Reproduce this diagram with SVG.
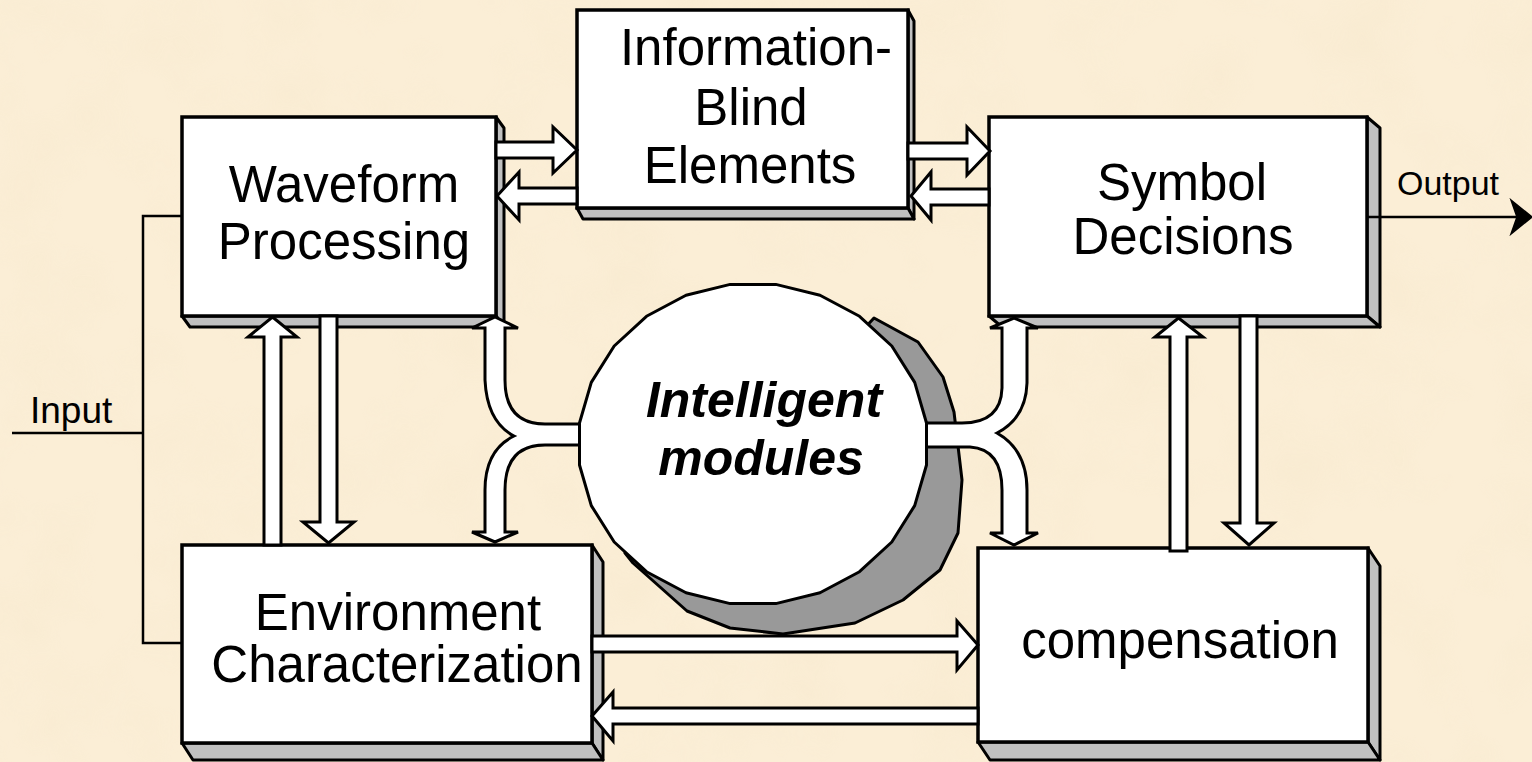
<svg xmlns="http://www.w3.org/2000/svg" width="1532" height="762" viewBox="0 0 1532 762">
  <defs>
    <style>
      .face { fill: #ffffff; stroke: #000000; stroke-width: 3.5; stroke-linejoin: miter; }
      .side { fill: #c0c0c0; stroke: #000000; stroke-width: 3; stroke-linejoin: round; }
      .blk { fill: #ffffff; stroke: #000000; stroke-width: 3; stroke-linejoin: miter; }
      .wire { fill: none; stroke: #000000; stroke-width: 2.5; }
      .lbl { font-family: "Liberation Sans", Arial, Helvetica, sans-serif; font-size: 51px; fill: #000000; text-anchor: middle; }
      .small { font-family: "Liberation Sans", Arial, Helvetica, sans-serif; fill: #000000; }
      .bi { font-family: "Liberation Sans", Arial, Helvetica, sans-serif; font-size: 50px; font-weight: bold; font-style: italic; fill: #000000; text-anchor: middle; }
    </style>
    <filter id="paper" x="0" y="0" width="100%" height="100%">
      <feTurbulence type="fractalNoise" baseFrequency="0.012" numOctaves="3" seed="7"/>
      <feColorMatrix type="matrix" values="0 0 0 0 0.86  0 0 0 0 0.74  0 0 0 0 0.52  0.6 0 0 0 -0.26"/>
    </filter>
  </defs>

  <rect x="0" y="0" width="1532" height="762" fill="#fbeed6"/>
  <rect x="0" y="0" width="1532" height="762" filter="url(#paper)" opacity="0.6"/>

  <!-- Input / Output wiring -->
  <g id="io-lines">
    <polyline class="wire" points="182,216 143,216 143,643 182,643"/>
    <line class="wire" x1="12" y1="433" x2="143" y2="433"/>
    <text class="small" x="30" y="423" font-size="37">Input</text>
    <text class="small" x="1397" y="195" font-size="34">Output</text>
  </g>

  <!-- Nodes -->
  <g id="node-waveform">
    <polygon class="side" points="496,117 504,128 504,327 496,316"/>
    <polygon class="side" points="182,316 496,316 504,327 190,327"/>
    <rect class="face" x="182" y="117" width="314" height="199"/>
  </g>

  <g id="node-infoblind">
    <polygon class="side" points="908,10 914,21 914,219 908,208"/>
    <polygon class="side" points="577,208 908,208 914,219 583,219"/>
    <rect class="face" x="577" y="10" width="331" height="198"/>
  </g>

  <g id="node-symbol">
    <polygon class="side" points="1367,117 1380,128 1380,327 1367,316"/>
    <polygon class="side" points="989,316 1367,316 1380,327 1002,327"/>
    <rect class="face" x="989" y="117" width="378" height="199"/>
  </g>

  <g id="node-environment">
    <polygon class="side" points="592,545 603,562 603,760 592,743"/>
    <polygon class="side" points="182,743 592,743 603,760 193,760"/>
    <rect class="face" x="182" y="545" width="410" height="198"/>
  </g>

  <g id="node-compensation">
    <polygon class="side" points="1368,548 1380,566 1380,760 1368,742"/>
    <polygon class="side" points="978,742 1368,742 1380,760 990,760"/>
    <rect class="face" x="978" y="548" width="390" height="194"/>
  </g>

  <g id="node-intelligent-shadow">
    <path d="M625,553 L633,563 L687,611 L730,628 L783,634 L855,623 L903,600 L940,570 L958,533 L962,480 L954,412 L943,377 L918,342 L874,318 L760,440 Z" fill="#999999" stroke="#000000" stroke-width="3" stroke-linejoin="round"/>
  </g>

  <!-- Connectors -->
  <g id="connectors">
    <path class="blk" d="M496,142 L553,142 L553,127 L577,150 L553,173 L553,158 L496,158 Z"/>
    <path class="blk" d="M577,188 L519,188 L519,172 L497,196 L519,220 L519,204 L577,204 Z"/>
    <path class="blk" d="M908,143 L967,143 L967,127 L990,151 L967,175 L967,159 L908,159 Z"/>
    <path class="blk" d="M989,189 L931,189 L931,172 L911,196 L931,220 L931,205 L989,205 Z"/>

    <path class="blk" d="M264,545 L264,337 L248,337 L272.5,317 L297,337 L281,337 L281,545 Z"/>
    <path class="blk" d="M320,316 L320,522 L303,522 L328.5,543 L354,522 L337,522 L337,316 Z"/>
    <path class="blk" d="M1170,551 L1170,337 L1155,337 L1178.5,318 L1203,337 L1187,337 L1187,551 Z"/>
    <path class="blk" d="M1240,316 L1240,523 L1224,523 L1249,545 L1274,523 L1257,523 L1257,316 Z"/>

    <path class="blk" d="M592,636 L957,636 L957,621 L978,645 L957,670 L957,652 L592,652 Z"/>
    <path class="blk" d="M978,708 L613,708 L613,692 L592,716 L613,741 L613,724 L978,724 Z"/>

    <path class="blk" d="M495,317 L518,328 L505,328 L505,380 Q505,424 545,424 L582,424 L582,445 L545,445 Q505,445 505,490 L505,532 L518,532 L495,542 L472,532 L485,532 L485,490 Q485,450 514,436 Q487,422 485,380 L485,328 L472,328 Z"/>
    <path class="blk" d="M1014,318 L1038,328 L1027,328 L1027,383 Q1026,418 997,433 Q1027,450 1027,490 L1027,533 L1038,533 L1014,545 L990,533 L1002,533 L1002,490 Q1002,449 970,447 L925,447 L925,423 L962,423 Q1001,423 1002,388 L1002,328 L990,328 Z"/>

    <line x1="1367" y1="217" x2="1518" y2="217" stroke="#000000" stroke-width="2.5"/>
    <polygon points="1511,200 1532,217 1511,234 1517,217" fill="#000000" stroke="#000000" stroke-width="1.5" stroke-linejoin="miter"/>
  </g>

  <g id="node-intelligent">
    <polygon points="926.5,465 914.7,505.6 891.8,542 859.5,571.7 820,592.7 775.8,603.6 730.2,603.6 686,592.7 646.5,571.7 614.2,542 591.3,505.6 579.5,465 579.5,423 591.3,382.4 614.2,346 646.5,316.3 686,295.3 730.2,284.4 775.8,284.4 820,295.3 859.5,316.3 891.8,346 914.7,382.4 926.5,423" fill="#ffffff" stroke="#000000" stroke-width="3" stroke-linejoin="round"/>
    <text class="bi" x="764" y="417">Intelligent</text>
    <text class="bi" x="761" y="475">modules</text>
  </g>

  <!-- Labels -->
  <g id="labels">
    <text class="lbl" x="344" y="202">Waveform</text>
    <text class="lbl" x="344" y="259">Processing</text>
    <text class="lbl" x="756" y="65">Information-</text>
    <text class="lbl" x="751" y="125">Blind</text>
    <text class="lbl" x="750" y="183">Elements</text>
    <text class="lbl" x="1182" y="200">Symbol</text>
    <text class="lbl" x="1183" y="254">Decisions</text>
    <text class="lbl" x="398" y="630">Environment</text>
    <text class="lbl" x="397" y="682">Characterization</text>
    <text class="lbl" x="1180" y="658">compensation</text>
  </g>
</svg>
